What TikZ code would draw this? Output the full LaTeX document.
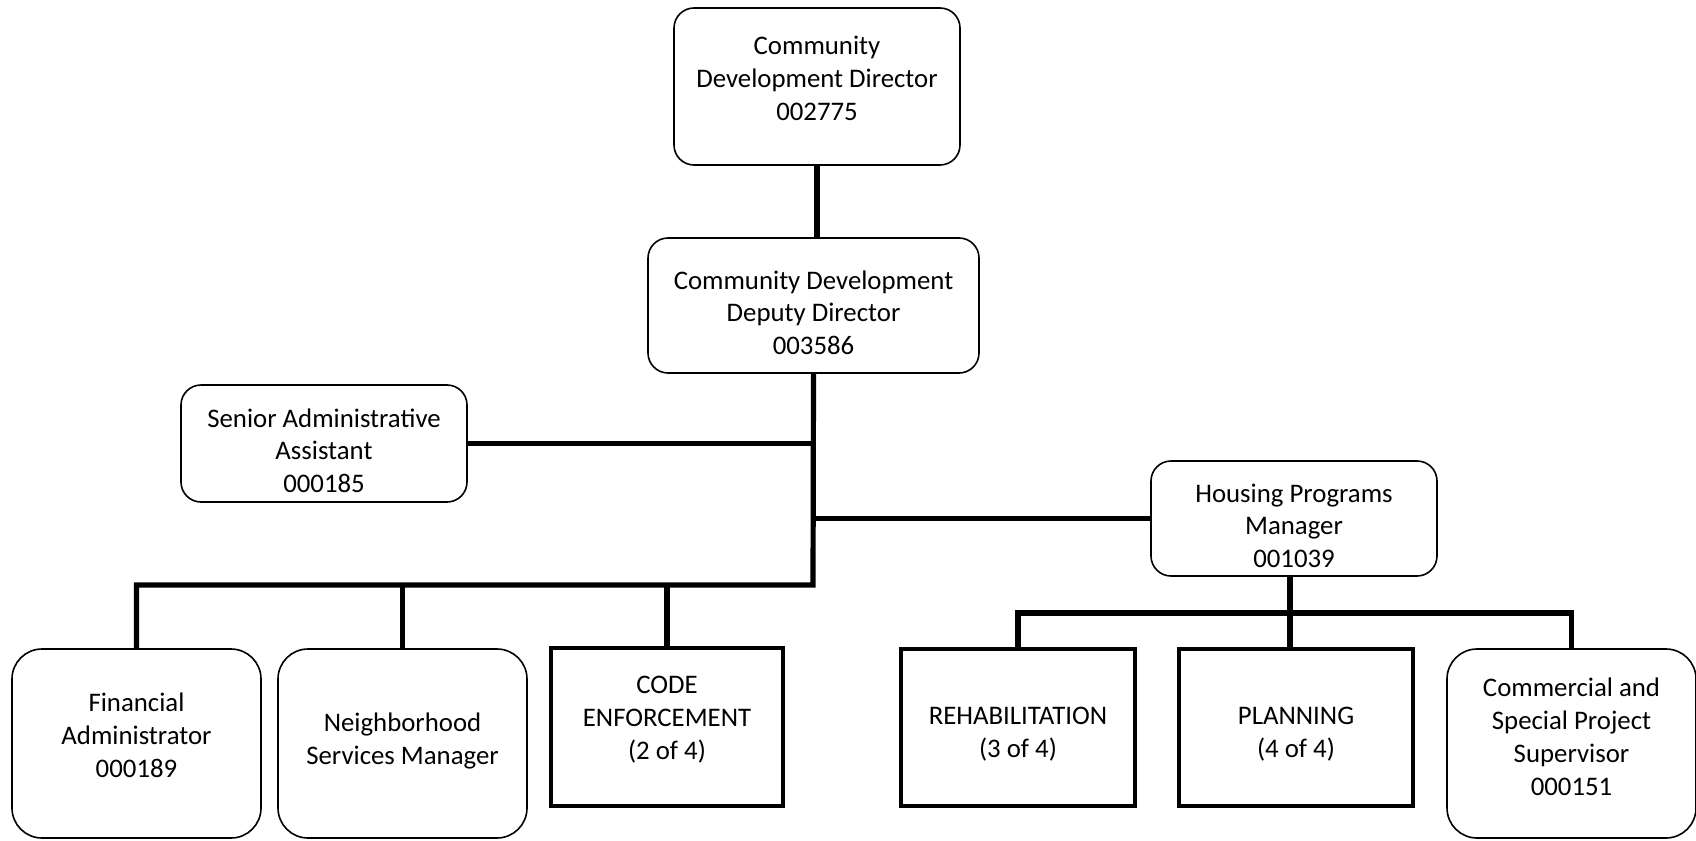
\documentclass[tikz,border=0pt]{standalone}
\usepackage{fontspec}
\setmainfont{Carlito}
\usetikzlibrary{positioning}

\begin{document}
\begin{tikzpicture}[x=0.5pt, y=-0.5pt,
  font=\fontsize{13.4}{16.4}\selectfont,
  post/.style={draw, rounded corners=10pt, line width=0.8pt, align=center, inner sep=2pt},
  unit/.style={draw, line width=2.2pt, align=center, inner sep=2pt},
  link/.style={line width=2.6pt}]
  \useasboundingbox (0,0) rectangle (1696,840);
  \node[post, minimum width=143pt, minimum height=78.5pt] (dir) at (817,86.5) {Community\\Development Director\\002775\\[-8.3pt]};
  \node[post, minimum width=165.5pt, minimum height=67.5pt] (dep) at (813.5,305.5) {\\[0pt]Community Development\\Deputy Director\\003586};
  \node[post, minimum width=143pt, minimum height=58.5pt] (sen) at (324,443.5) {\\[0pt]Senior Administrative\\Assistant\\000185};
  \node[post, minimum width=143pt, minimum height=57.5pt] (hou) at (1294,518.5) {\\[0pt]Housing Programs\\Manager\\001039};
  \node[post, rounded corners=15pt, minimum width=124.5pt, minimum height=94.5pt] (fin) at (136.5,743.5) {Financial\\Administrator\\000189\\[-8.3pt]};
  \node[post, rounded corners=15pt, minimum width=124.5pt, minimum height=94.5pt] (nei) at (402.5,743.5) {Neighborhood\\Services Manager\\[-11.5pt]};
  \node[unit, minimum width=116pt, minimum height=79pt] (code) at (667,727) {CODE\\ENFORCEMENT\\(2 of 4)\\[-7pt]};
  \node[unit, minimum width=117pt, minimum height=78.5pt] (reh) at (1018,727.5) {\\[-1pt]REHABILITATION\\(3 of 4)};
  \node[unit, minimum width=117pt, minimum height=78.5pt] (pla) at (1296,727.5) {\\[-1pt]PLANNING\\(4 of 4)};
  \node[post, rounded corners=15pt, minimum width=124.5pt, minimum height=94.5pt] (com) at (1571.5,743.5) {Commercial and\\Special Project\\Supervisor\\000151\\[-9.4pt]};
  \coordinate (lbus) at (813,585);
  \coordinate (rbus) at (1290,613);
  \draw[link] (dir.south) -- (dir.south |- dep.north);
  \draw[link] (dep.south) -- (lbus) -| (fin.north);
  \draw[link] (sen.east) -- (sen.east -| dep.south);
  \draw[link] (hou.west) -- (hou.west -| dep.south);
  \draw[link] (nei.north) -- (nei.north |- lbus);
  \draw[link] (code.north) -- (code.north |- lbus);
  \draw[link] (hou.south -| rbus) -- (pla.north -| rbus);
  \draw[link] (reh.north) |- (rbus) -| (com.north);
\end{tikzpicture}
\end{document}
